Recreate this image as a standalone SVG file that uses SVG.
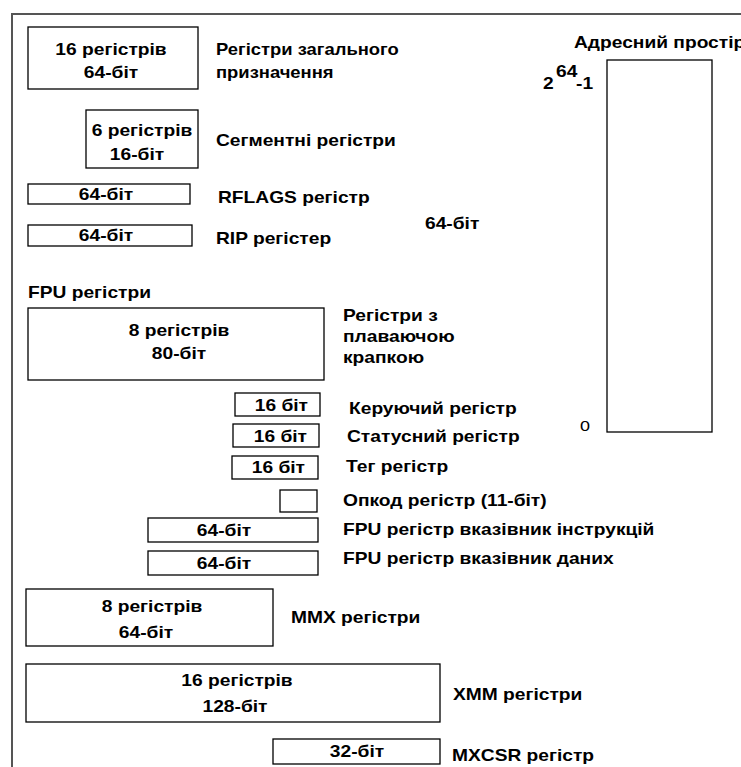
<svg xmlns="http://www.w3.org/2000/svg" width="741" height="767" viewBox="0 0 741 767">
<style>
text{font-family:"Liberation Sans",Arial,sans-serif;font-weight:bold;font-size:16px;fill:#000}
.c{text-anchor:middle}
.e{text-anchor:end}
.b{fill:#fff;stroke:#000;stroke-width:1.3}
</style>
<rect width="741" height="767" fill="#fff"/>
<path d="M12,768 V14 H742" fill="none" stroke="#555" stroke-width="2"/>
<g id="gp"><rect class="b" x="28" y="27" width="170" height="62"/><text class="c" transform="translate(111,55) scale(1.2,1)">16 регістрів</text><text class="c" transform="translate(111,78) scale(1.2,1)">64-біт</text><text transform="translate(216,55) scale(1.15,1)">Регістри загального</text><text transform="translate(216,78) scale(1.15,1)">призначення</text></g>
<g id="seg"><rect class="b" x="86" y="110" width="112" height="58"/><text class="c" transform="translate(142,136) scale(1.2,1)">6 регістрів</text><text class="c" transform="translate(137,160) scale(1.2,1)">16-біт</text><text transform="translate(216,146) scale(1.2,1)">Сегментні регістри</text></g>
<g id="rflags"><rect class="b" x="28" y="184" width="162" height="20"/><text class="c" transform="translate(106,200) scale(1.2,1)">64-біт</text><text transform="translate(218,203) scale(1.2,1)">RFLAGS регістр</text></g>
<g id="rip"><rect class="b" x="28" y="225" width="164" height="21"/><text class="c" transform="translate(106,241) scale(1.2,1)">64-біт</text><text transform="translate(216,244) scale(1.2,1)">RIP регістер</text></g>
<text transform="translate(425,229) scale(1.2,1)">64-біт</text>
<g id="addr"><text transform="translate(574,48) scale(1.2,1)">Адресний простір</text><rect class="b" x="607" y="60" width="105" height="372"/><text transform="translate(543,89) scale(1.2,1)">2</text><text transform="translate(556,77) scale(1.2,1)">64</text><text transform="translate(576,89) scale(1.2,1)">-1</text><text transform="translate(580,431) scale(1.2,1)" style="font-weight:normal;font-size:15px">0</text></g>
<text transform="translate(28,298) scale(1.2,1)">FPU регістри</text>
<g id="fpu"><rect class="b" x="28" y="308" width="296" height="72"/><text class="c" transform="translate(179,336) scale(1.2,1)">8 регістрів</text><text class="c" transform="translate(179,359) scale(1.2,1)">80-біт</text><text transform="translate(343,321) scale(1.2,1)">Регістри з</text><text transform="translate(343,342) scale(1.2,1)">плаваючою</text><text transform="translate(343,363) scale(1.2,1)">крапкою</text></g>
<g id="ctrl"><rect class="b" x="235" y="393" width="85" height="23"/><text class="e" transform="translate(308,411) scale(1.2,1)">16 біт</text><text transform="translate(349,414) scale(1.2,1)">Керуючий регістр</text></g>
<g id="stat"><rect class="b" x="233" y="424" width="86" height="23"/><text class="e" transform="translate(307,442) scale(1.2,1)">16 біт</text><text transform="translate(347,442) scale(1.2,1)">Статусний регістр</text></g>
<g id="tag"><rect class="b" x="232" y="456" width="86" height="23"/><text class="e" transform="translate(305,473) scale(1.2,1)">16 біт</text><text transform="translate(346,472) scale(1.2,1)">Тег регістр</text></g>
<g id="opc"><rect class="b" x="280" y="490" width="37" height="22"/><text transform="translate(343,506) scale(1.2,1)">Опкод регістр (11-біт)</text></g>
<g id="fip"><rect class="b" x="148" y="518" width="170" height="24"/><text class="c" transform="translate(224,536) scale(1.2,1)">64-біт</text><text transform="translate(343,535) scale(1.2,1)">FPU регістр вказівник інструкцій</text></g>
<g id="fdp"><rect class="b" x="148" y="551" width="170" height="24"/><text class="c" transform="translate(224,569) scale(1.2,1)">64-біт</text><text transform="translate(343,564) scale(1.2,1)">FPU регістр вказівник даних</text></g>
<g id="mmx"><rect class="b" x="26" y="589" width="247" height="57"/><text class="c" transform="translate(152,612) scale(1.2,1)">8 регістрів</text><text class="c" transform="translate(146,638) scale(1.2,1)">64-біт</text><text transform="translate(291,623) scale(1.2,1)">MMX регістри</text></g>
<g id="xmm"><rect class="b" x="26" y="664" width="414" height="58"/><text class="c" transform="translate(237,686) scale(1.2,1)">16 регістрів</text><text class="c" transform="translate(235,712) scale(1.2,1)">128-біт</text><text transform="translate(453,700) scale(1.2,1)">XMM регістри</text></g>
<g id="mxcsr"><rect class="b" x="273" y="739" width="167" height="25"/><text class="c" transform="translate(357,757) scale(1.2,1)">32-біт</text><text transform="translate(452,761) scale(1.2,1)">MXCSR регістр</text></g>
</svg>
